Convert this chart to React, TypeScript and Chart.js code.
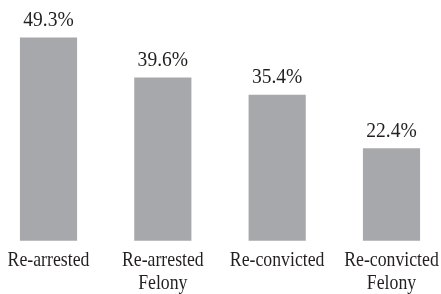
import React, { useEffect, useRef } from "react";
import { Chart, registerables } from "chart.js";

Chart.register(...registerables);

const categories: string[][] = [
  ["Re-arrested"],
  ["Re-arrested", "Felony"],
  ["Re-convicted"],
  ["Re-convicted", "Felony"],
];
const values: number[] = [49.3, 39.6, 35.4, 22.4];
const valueLabels: string[] = ["49.3%", "39.6%", "35.4%", "22.4%"];

const BAR_COLOR = "#a7a8ab";
const TEXT_COLOR = "#231f20";
const FONT_FAMILY = "'Liberation Serif', 'Times New Roman', serif";
const LABEL_SCALE = 0.845;
const VALUE_SCALE = 0.93;

function drawText(ctx: CanvasRenderingContext2D, text: string, x: number, y: number, sx: number) {
  ctx.save();
  ctx.translate(x, y);
  ctx.scale(sx, 1);
  ctx.fillText(text, 0, 0);
  ctx.restore();
}

const labelPlugin = {
  id: "customLabels",
  afterDatasetsDraw(chart: any) {
    const ctx: CanvasRenderingContext2D = chart.ctx;
    const meta = chart.getDatasetMeta(0);
    const bottom = chart.chartArea.bottom;
    ctx.save();
    ctx.fillStyle = TEXT_COLOR;
    ctx.textAlign = "center";
    ctx.textBaseline = "alphabetic";
    meta.data.forEach((bar: any, i: number) => {
      ctx.font = `21px ${FONT_FAMILY}`;
      drawText(ctx, valueLabels[i], bar.x, bar.y - 11.5, VALUE_SCALE);
      const lines = chart.data.labels[i] as string[];
      lines.forEach((line: string, j: number) => {
        drawText(ctx, line, bar.x, bottom + 25.5 + j * 22.5, LABEL_SCALE);
      });
    });
    ctx.restore();
  },
};

export default function App() {
  const ref = useRef<HTMLCanvasElement | null>(null);

  useEffect(() => {
    if (!ref.current) return;
    const chart = new Chart(ref.current, {
      type: "bar",
      data: {
        labels: categories,
        datasets: [
          {
            data: values,
            backgroundColor: BAR_COLOR,
            borderWidth: 0,
            barPercentage: 1,
            categoryPercentage: 0.5,
            clip: false,
          } as any,
        ],
      },
      options: {
        animation: false,
        responsive: false,
        maintainAspectRatio: false,
        layout: { padding: { top: 14, bottom: 53.3, left: 48.5, right: 49.5 } },
        plugins: {
          legend: { display: false },
          tooltip: { enabled: false },
        },
        scales: {
          x: {
            display: false,
            offset: false,
          },
          y: {
            display: false,
            min: 0,
            max: 55,
          },
        },
      },
      plugins: [labelPlugin],
    });
    return () => chart.destroy();
  }, []);

  return (
    <div style={{ position: "absolute", left: 0, top: 0, width: 441, height: 294, background: "#fff" }}>
      <canvas ref={ref} width={441} height={294} style={{ display: "block" }} />
    </div>
  );
}
